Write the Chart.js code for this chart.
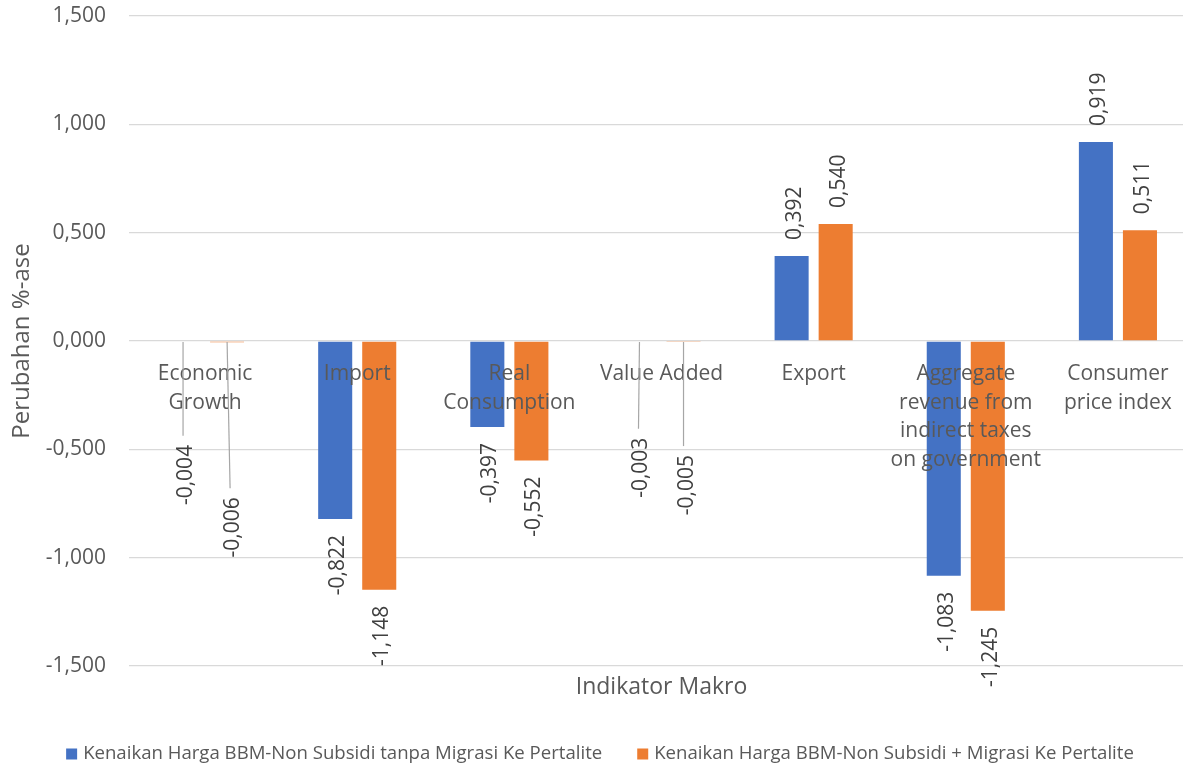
<!DOCTYPE html>
<html><head><meta charset="utf-8">
<script src="https://cdn.jsdelivr.net/npm/chart.js@4.4.1/dist/chart.umd.min.js"></script>
<style>html,body{margin:0;padding:0;background:#fff;overflow:hidden;width:1183px;height:766px}canvas{display:block}</style>
</head><body><canvas id="c" width="1200" height="766"></canvas>
<script>
// ---- data ----
const categories = [["Economic","Growth"],["Import"],["Real","Consumption"],["Value Added"],["Export"],["Aggregate","revenue from","indirect taxes","on government"],["Consumer","price index"]];
const seriesNames = ["Kenaikan Harga BBM-Non Subsidi tanpa Migrasi Ke Pertalite","Kenaikan Harga BBM-Non Subsidi + Migrasi Ke Pertalite"];
const seriesA = [-0.004,-0.822,-0.397,-0.003,0.392,-1.083,0.919];
const seriesB = [-0.006,-1.148,-0.552,-0.005,0.540,-1.245,0.511];
const yTicks = [-1.5,-1.0,-0.5,0,0.5,1.0,1.5];
const yTitle = "Perubahan %-ase";
const xTitle = "Indikator Makro";

// ---- styles ----
const FONT = "'Open Sans', 'Noto Sans', sans-serif";
const colors = ['#4472C4','#ED7D31'];
const textGray = '#595959';
const labelGray = '#404040';
// labels that were moved away from their bars (with leader lines): pixel shifts
const labelShifts = [{ds:0,i:0,dx:0,dy:87},{ds:1,i:0,dx:3,dy:139},{ds:0,i:3,dx:-1,dy:80},{ds:1,i:3,dx:0,dy:97}];
const fmt = v => v.toFixed(3).replace('.', ',');

const overlay = {
  id:'overlay',
  afterDatasetsDraw(chart){
    const ctx = chart.ctx;
    const xs = chart.scales.x, ys = chart.scales.y;
    const zero = ys.getPixelForValue(0);
    ctx.save();
    // category labels near the zero line
    ctx.font = '21px ' + FONT;
    ctx.fillStyle = textGray;
    ctx.textAlign = 'center';
    ctx.textBaseline = 'middle';
    categories.forEach((lines,i)=>{
      const cx = xs.getPixelForValue(i);
      lines.forEach((ln,k)=> ctx.fillText(ln, cx, zero + 33 + k*28.7));
    });
    // data labels
    const gap = 16;
    chart.data.datasets.forEach((ds,di)=>{
      const meta = chart.getDatasetMeta(di);
      meta.data.forEach((bar,i)=>{
        const v = ds.data[i];
        const sh = labelShifts.find(o=>o.ds===di && o.i===i);
        const dx = sh ? sh.dx : 0, dy = sh ? sh.dy : 0;
        const x = bar.x + dx;
        let y;
        if (v >= 0) y = bar.y - gap - dy; else y = bar.y + gap + dy;
        if (sh) {
          ctx.strokeStyle = '#A6A6A6'; ctx.lineWidth = 1.2;
          ctx.beginPath();
          ctx.moveTo(bar.x, zero + 1);
          ctx.lineTo(x, y - 9);
          ctx.stroke();
        }
        ctx.save();
        ctx.translate(x, y);
        ctx.rotate(-Math.PI/2);
        ctx.font = '21px ' + FONT;
        ctx.fillStyle = labelGray;
        ctx.textBaseline = 'alphabetic';
        ctx.textAlign = v >= 0 ? 'left' : 'right';
        ctx.fillText(fmt(v), 0, 9);
        ctx.restore();
      });
    });
    ctx.restore();
  },
  afterDraw(chart){
    const ctx = chart.ctx;
    ctx.save();
    ctx.font = '18.6px ' + FONT;
    ctx.textBaseline = 'middle';
    ctx.textAlign = 'left';
    const box = 11, boxGap = 6, itemGap = 35, cy = 754, centerX = chart.width / 2;
    const widths = seriesNames.map(s => ctx.measureText(s).width);
    const total = widths.reduce((a,w)=>a+box+boxGap+w,0) + itemGap*(seriesNames.length-1);
    let x = centerX - total/2;
    seriesNames.forEach((s,k)=>{
      ctx.fillStyle = colors[k];
      ctx.fillRect(x, cy - 5.5, box, box);
      ctx.fillStyle = textGray;
      ctx.fillText(s, x + box + boxGap, cy);
      x += box + boxGap + widths[k] + itemGap;
    });
    ctx.restore();
  }
};

new Chart(document.getElementById('c'), {
  type:'bar',
  data:{
    labels: categories.map(l=>l.join(' ')),
    datasets:[
      {label:seriesNames[0], data:seriesA, backgroundColor:colors[0], barPercentage:0.773, categoryPercentage:0.579},
      {label:seriesNames[1], data:seriesB, backgroundColor:colors[1], barPercentage:0.773, categoryPercentage:0.579}
    ]
  },
  options:{
    responsive:false, animation:false,
    layout:{padding:{top:16,right:6,left:0,bottom:0}},
    plugins:{legend:{display:false}, tooltip:{enabled:false}},
    scales:{
      x:{
        grid:{display:false}, border:{display:false},
        ticks:{display:false},
        title:{display:true, text:xTitle, color:textGray, font:{family:FONT,size:23}, padding:{top:0,bottom:65}},
        afterFit(s){ s.height = 100; s.paddingLeft = 0; s.paddingRight = 0; }
      },
      y:{
        min:-1.5, max:1.5,
        afterBuildTicks(s){ s.ticks = yTicks.map(v=>({value:v})); },
        ticks:{color:textGray, font:{family:FONT,size:21}, padding:23, callback:v=>fmt(v)},
        grid:{color:'#D9D9D9', lineWidth:1.3, drawTicks:false},
        border:{display:false},
        title:{display:true, text:yTitle, color:textGray, font:{family:FONT,size:24}, padding:{top:7.5,bottom:0}},
        afterFit(s){ s.width = 129; s.paddingTop = 0; s.paddingBottom = 0; }
      }
    }
  },
  plugins:[overlay]
});
</script>
</body></html>
